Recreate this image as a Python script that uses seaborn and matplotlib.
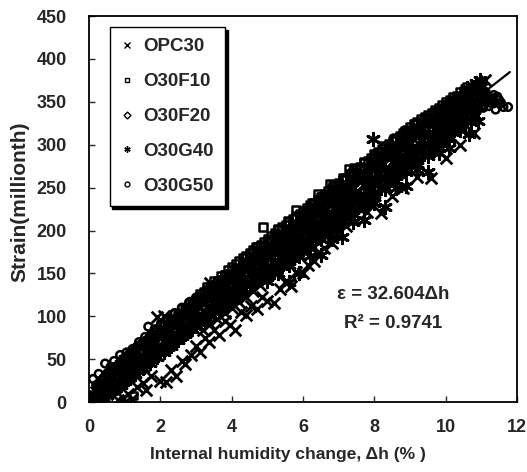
import numpy as np
import pandas as pd
import matplotlib.pyplot as plt
import seaborn as sns
from matplotlib.lines import Line2D

#%% datos
opc30_x = [0.05, 0.2, 0.35, 0.5, 0.65, 0.8, 0.95, 1.0, 1.1, 1.2, 1.35, 1.5, 1.6, 1.75,
           1.9, 2.1, 2.0, 2.15, 2.3, 2.45, 2.6, 2.7, 2.85, 3.0, 3.1, 3.25, 3.4, 3.35,
           3.5, 3.65, 3.8, 3.95, 4.1, 4.25, 4.4, 4.55, 4.7, 4.85, 5.0, 5.2, 5.35, 5.5,
           5.65, 5.8, 6.0, 6.15, 6.3, 6.45, 6.6, 6.8, 7.0, 7.2, 7.4, 7.6, 7.8, 8.2,
           8.5, 8.8, 9.2, 9.6, 10.0, 10.4, 10.8,
           0.6, 1.3, 2.2, 3.0, 3.6, 4.2, 4.8, 5.5, 6.2, 7.0, 7.8, 8.6, 9.4, 10.2, 11.0, 11.1,
           0.1, 0.3, 0.5, 0.7, 0.9, 1.1, 1.3, 1.5, 1.7, 1.9, 2.1, 2.3, 2.5, 2.7, 2.9,
           3.1, 3.3, 3.5, 3.7, 3.9, 4.1, 4.3, 4.5, 4.7, 4.9, 5.1, 5.3, 5.5, 5.7, 5.9,
           6.1, 6.3, 6.5, 6.7, 6.9, 7.1, 7.3, 7.5, 7.7, 7.9, 8.1, 8.3, 8.5, 8.7, 8.9,
           9.1, 9.3, 9.5, 9.7, 9.9, 10.1, 10.3, 10.5, 10.7, 10.9,
           0.2, 0.4, 0.6, 0.8, 1.0, 1.2, 1.4, 1.6, 1.8, 2.0, 2.2, 2.4, 2.6, 2.8, 3.0,
           3.2, 3.4, 3.6, 3.8, 4.0, 4.2, 4.4, 4.6, 4.8, 5.0, 5.2, 5.4, 5.6, 5.8, 6.0,
           6.2, 6.4, 6.6, 6.8, 7.0, 7.2, 7.4, 7.6, 7.8, 8.0, 8.2, 8.4, 8.6, 8.8, 9.0,
           9.2, 9.4, 9.6, 9.8, 10.0, 10.2, 10.4, 10.6, 10.8, 11.0,
           3.2, 3.4, 3.6, 3.8, 4.0, 4.2, 4.4, 4.6, 4.8]
opc30_y = [1, 3, 8, 10, 15, 2, 5, 0, 10, 4, 18, 22, 14, 30,
           99, 100, 25, 23, 38, 30, 48, 45, 55, 65, 58, 75, 139, 70,
           84, 78, 95, 90, 84, 105, 101, 112, 108, 122, 118, 115, 132, 140,
           135, 152, 150, 160, 165, 175, 180, 185, 200, 205, 215, 225, 222, 220,
           240, 250, 262, 261, 285, 300, 314,
           20, 40, 75, 105, 120, 142, 160, 185, 205, 232, 258, 285, 310, 335, 372, 375,
           5, 12, 20, 25, 33, 38, 46, 51, 59, 64, 72, 77, 85, 90, 98,
           103, 111, 116, 124, 129, 137, 142, 150, 155, 163, 168, 176, 181, 189, 194,
           202, 207, 215, 220, 228, 233, 241, 246, 254, 259, 267, 272, 280, 285, 293,
           298, 306, 311, 319, 324, 332, 337, 345, 350, 358,
           12, 21, 28, 36, 41, 49, 54, 62, 67, 75, 80, 88, 93, 101, 106,
           114, 119, 127, 132, 140, 145, 153, 158, 166, 171, 179, 184, 192, 197, 205,
           210, 218, 223, 231, 236, 244, 249, 257, 262, 270, 275, 283, 288, 296, 301,
           309, 314, 322, 327, 335, 340, 348, 353, 361, 366,
           84, 91, 97, 104, 110, 117, 123, 130, 136]

o30f10_x = [0.08, 0.22, 0.36, 0.48, 0.63, 0.79, 0.93, 1.08, 1.24, 1.21, 1.37, 1.53, 1.68,
            1.82, 1.97, 2.13, 2.28, 2.42, 2.58, 2.71, 2.87, 3.02, 3.18, 3.31, 3.48, 3.63,
            3.79, 3.93, 4.08, 4.23, 4.39, 4.52, 4.68, 4.83, 4.88, 5.02, 5.14, 5.29, 5.44,
            5.58, 5.71, 5.80, 5.96, 6.09, 6.24, 6.38, 6.40, 6.53, 6.67, 6.76, 6.84, 6.97,
            7.12, 7.27, 7.26, 7.42, 7.55, 7.69, 7.83, 7.97, 8.12, 8.26, 8.41, 8.55, 8.69,
            8.84, 8.98, 9.13, 9.27, 9.41, 9.55, 9.70, 9.84, 9.99, 10.13, 10.28, 10.42,
            10.57, 10.71, 10.85, 10.98, 11.1, 11.3,
            3.2, 3.4, 3.6, 3.8, 4.0, 4.2, 4.4, 4.6, 4.8, 5.0, 5.2, 5.4, 5.6, 5.8, 6.0,
            6.2, 6.4, 6.6, 6.8, 7.0, 7.2, 7.4, 7.6, 7.8, 8.0, 8.2, 8.4, 8.6, 8.8, 9.0,
            9.2, 9.4, 9.6, 9.8, 10.0, 10.2, 10.4, 10.6,
            3.1, 3.3, 3.5, 3.7, 3.9, 4.1, 4.3, 4.5, 4.7, 4.9, 5.1, 5.3, 5.5, 5.7, 5.9,
            6.1, 6.3, 6.5, 6.7, 6.9, 7.1, 7.3, 7.5, 7.7, 7.9, 8.1, 8.3, 8.5, 8.7, 8.9,
            9.1, 9.3, 9.5, 9.7, 9.9, 10.1, 10.3, 10.5]
o30f10_y = [5, 14, 22, 27, 34, 31, 42, 47, 8, 55, 52, 66, 72,
            68, 82, 79, 93, 86, 102, 110, 101, 118, 113, 131, 125, 136,
            149, 138, 156, 150, 169, 163, 181, 170, 204, 188, 180, 202, 194,
            211, 199, 224, 218, 214, 233, 224, 243, 240, 232, 255, 252, 242,
            262, 272, 254, 273, 262, 280, 273, 290, 283, 299, 290, 307, 300,
            316, 308, 324, 318, 331, 327, 338, 333, 347, 341, 353, 348,
            360, 356, 368, 362, 357, 355,
            129, 136, 142, 149, 158, 165, 171, 178, 184, 191, 197, 204, 210, 217, 223,
            230, 236, 243, 249, 256, 262, 269, 275, 282, 288, 295, 301, 308, 314, 321,
            327, 333, 337, 343, 350, 356, 362, 368,
            127, 134, 141, 147, 154, 161, 168, 174, 181, 187, 194, 201, 207, 214, 220,
            227, 233, 240, 246, 253, 259, 266, 272, 279, 285, 292, 298, 305, 311, 318,
            324, 330, 335, 341, 347, 352, 357, 363]

o30f20_x = [0.05, 0.17, 0.26, 0.41, 0.53, 0.72, 0.84, 1.02, 1.13, 1.31, 1.44, 1.62, 1.74,
            1.91, 2.03, 2.22, 2.33, 2.51, 2.66, 2.79, 2.97, 3.08, 3.26, 3.39, 3.57, 3.71,
            3.86, 4.02, 4.14, 4.31, 4.47, 4.58, 4.76, 4.89, 5.07, 5.19, 5.36, 5.52, 5.63,
            5.81, 5.94, 6.12, 6.23, 6.41, 6.57, 6.68, 6.86, 6.99, 7.16, 7.28, 7.47, 7.59,
            7.77, 7.88, 8.06, 8.21, 8.33, 8.52, 8.64, 8.81, 8.93, 9.12, 9.24, 9.43, 9.56,
            9.68, 9.87, 9.98, 10.16, 10.29, 10.47, 10.58, 10.76, 10.88, 11.06, 11.21,
            11.37, 11.52]
o30f20_y = [3, 1, 20, 15, 35, 19, 36, 48, 27, 49, 67, 53, 68,
            56, 80, 75, 95, 73, 95, 104, 95, 116, 110, 104, 126, 142,
            123, 138, 152, 130, 158, 150, 170, 154, 174, 191, 174, 186, 202,
            181, 205, 203, 217, 203, 234, 220, 232, 224, 249, 247, 235, 260,
            258, 276, 261, 275, 287, 271, 294, 288, 308, 301, 296, 317, 326,
            313, 330, 343, 331, 342, 333, 356, 355, 364, 355, 352,
            349, 347]

o30g40_x = [0.1, 0.3, 0.5, 0.7, 0.9, 1.1, 1.3, 1.5, 1.7, 1.9, 2.1, 2.3, 2.5, 2.7, 2.9,
            3.1, 3.3, 3.5, 3.7, 3.9, 4.1, 4.3, 4.5, 4.7, 4.9, 5.05, 5.2, 5.35, 5.5, 5.6,
            5.75, 5.9, 6.05, 6.2, 6.35, 6.5, 6.65, 6.8, 6.95, 7.1, 7.25, 7.4, 7.55, 7.7,
            7.85, 7.96, 8.0, 8.15, 8.3, 8.45, 8.6, 8.75, 8.9, 9.05, 9.2, 9.35, 9.5, 9.65,
            9.8, 9.95, 10.1, 10.25, 10.4, 10.55, 10.65, 10.75, 10.85, 10.95, 11.02, 10.6,
            10.8, 10.9, 11.05,
            0.2, 0.4, 0.6, 0.8, 1.0, 1.2, 1.4, 1.6, 1.8, 2.0, 2.2, 2.4, 2.6, 2.8, 3.0,
            3.2, 3.4, 3.6, 3.8, 4.0, 4.2, 4.4, 4.6, 4.8, 5.0, 5.2, 5.4, 5.6, 5.8, 6.0,
            6.2, 6.4, 6.6, 6.8, 7.0, 7.2, 7.4, 7.6, 7.8, 8.0, 8.2, 8.4, 8.6, 8.8, 9.0,
            9.2, 9.4, 9.6, 9.8, 10.0, 10.2, 10.4, 10.6, 10.8, 11.0,
            0.1, 0.3, 0.5, 0.7, 0.9, 1.1, 1.3, 1.5, 1.7, 1.9, 2.1, 2.3, 2.5, 2.7, 2.9,
            3.1, 3.3, 3.5, 3.7, 3.9, 4.1, 4.3, 4.5, 4.7, 4.9, 5.1, 5.3, 5.5, 5.7, 5.9,
            6.1, 6.3, 6.5, 6.7, 6.9, 7.1, 7.3, 7.5, 7.7, 7.9, 8.1, 8.3, 8.5, 8.7, 8.9,
            9.1, 9.3, 9.5, 9.7, 9.9, 10.1, 10.3, 10.5, 10.7, 10.9,
            5.0, 5.3, 5.6, 5.9, 6.2, 6.5, 6.8, 7.1, 7.4, 7.7, 8.0, 8.3, 8.6, 8.9, 9.2,
            9.5, 9.8, 10.1, 10.4, 10.7,
            0.6, 0.8, 1.0, 1.2, 1.4, 1.6, 1.8, 2.0, 2.2, 2.4, 2.6, 2.8, 3.0,
            3.2, 3.4, 3.6, 3.8, 4.0, 4.2, 4.4, 4.6, 4.8, 5.0, 5.2, 5.4, 5.6, 5.8, 6.0,
            6.2, 6.4, 6.6, 6.8, 7.0, 7.2, 7.4, 7.6, 7.8, 8.0, 8.2, 8.4, 8.6, 8.8, 9.0,
            9.2, 9.4, 9.6, 9.8, 10.0, 10.2, 10.4, 10.6, 10.8,
            0.5, 0.7, 0.9, 1.1, 1.3, 1.5, 1.7, 1.9, 2.1, 2.3, 2.5, 2.7, 2.9,
            3.1, 3.3, 3.5, 3.7, 3.9, 4.1, 4.3, 4.5, 4.7, 4.9, 5.1, 5.3, 5.5, 5.7, 5.9,
            6.1, 6.3, 6.5, 6.7, 6.9, 7.1, 7.3, 7.5, 7.7, 7.9, 8.1, 8.3, 8.5, 8.7, 8.9,
            9.1, 9.3, 9.5, 9.7, 9.9, 10.1, 10.3, 10.5, 10.7, 10.9,
            5.0, 5.2, 5.4, 5.6, 5.8, 6.0, 6.2, 6.4, 6.6, 6.8, 7.0, 7.2, 7.4, 7.6, 7.8,
            8.0, 8.2, 8.4, 8.6, 8.8, 9.0, 9.2, 9.4, 9.6, 9.8, 10.0, 10.2, 10.4, 10.6, 10.8]
o30g40_y = [2, 6, 12, 18, 25, 30, 38, 44, 50, 58, 63, 70, 76, 84, 90,
            96, 103, 108, 116, 122, 128, 133, 140, 146, 152, 150, 163, 160, 170, 140,
            178, 150, 186, 170, 200, 172, 208, 190, 218, 192, 228, 210, 240, 212,
            250, 307, 232, 262, 228, 270, 250, 280, 252, 290, 270, 300, 268, 310,
            290, 320, 296, 332, 318, 350, 312, 362, 372, 376, 368, 366,
            340, 328, 360,
            1, 6, 13, 20, 25, 33, 38, 46, 51, 59, 64, 72, 77, 85, 90,
            98, 103, 111, 116, 124, 129, 137, 142, 150, 155, 163, 168, 176, 181, 189,
            194, 202, 207, 215, 220, 228, 233, 241, 246, 254, 259, 267, 272, 280, 285,
            293, 298, 306, 311, 319, 324, 332, 337, 345, 352,
            8, 20, 29, 37, 45, 50, 58, 63, 71, 76, 84, 90, 96, 104, 109,
            117, 122, 130, 135, 143, 148, 156, 161, 169, 175, 182, 188, 195, 201, 208,
            214, 221, 227, 234, 240, 247, 253, 260, 266, 273, 279, 286, 292, 299, 305,
            312, 318, 325, 331, 337, 343, 350, 356, 362, 368,
            141, 150, 160, 170, 180, 190, 199, 210, 219, 229, 239, 248, 258, 268, 278,
            287, 297, 307, 317, 326,
            34, 42, 50, 57, 64, 71, 78, 85, 91, 98, 104, 111, 117,
            124, 130, 137, 144, 150, 157, 163, 170, 176, 183, 189, 196, 202, 209, 215,
            222, 228, 235, 241, 248, 254, 261, 267, 274, 280, 287, 293, 300, 306, 313,
            319, 326, 331, 337, 343, 349, 355, 361, 367,
            8, 14, 20, 27, 33, 40, 46, 53, 59, 66, 72, 79, 85,
            92, 98, 105, 111, 118, 124, 131, 137, 144, 150, 157, 163, 170, 176, 183,
            189, 196, 202, 209, 215, 222, 228, 235, 241, 248, 254, 261, 267, 274, 280,
            287, 293, 300, 306, 313, 319, 326, 332, 339, 345,
            146, 152, 159, 165, 172, 178, 185, 191, 198, 204, 211, 217, 224, 230, 237,
            243, 250, 256, 263, 269, 276, 282, 289, 295, 302, 308, 315, 321, 328, 335]

o30g50_x = [0.03, 0.11, 0.18, 0.27, 0.35, 0.45, 0.52, 0.60, 0.70, 0.80, 0.87, 0.96, 1.05,
            1.14, 1.22, 1.31, 1.40, 1.48, 1.57, 1.66, 1.75, 1.84, 1.93, 2.02, 2.12, 2.21,
            2.31, 2.40, 2.50, 2.61, 2.72, 2.83, 2.95, 3.06, 3.18, 3.30, 3.42, 3.55, 3.68,
            3.81, 3.95, 4.1, 4.25, 4.4, 4.55, 4.7, 4.85, 5.0, 5.2, 5.4, 5.6, 5.8, 6.0,
            6.3, 6.6, 6.9, 7.2, 7.5, 7.8, 8.1, 8.4, 8.7, 9.0, 9.3, 9.6, 9.9, 10.2, 10.5,
            10.8, 11.0, 11.1, 11.2, 11.3, 11.4, 11.45, 11.55, 11.62, 11.75,
            0.2, 0.4, 0.6, 0.8, 1.0, 1.2, 1.4, 1.6, 1.8, 2.0, 2.2, 2.4, 2.6, 2.8, 3.0,
            0.3, 0.5, 0.7, 0.9, 1.1, 1.3, 1.5, 1.7, 1.9, 2.1, 2.3, 2.5, 2.7, 2.9,
            11.05, 11.15, 11.25, 11.35, 11.5]
o30g50_y = [8, 27, 4, 33, 15, 45, 24, 41, 48, 30, 55, 40, 58,
            45, 62, 52, 70, 58, 76, 88, 72, 85, 76, 92, 84, 97,
            90, 104, 96, 110, 103, 117, 108, 122, 116, 128, 121, 135, 128,
            143, 136, 150, 144, 158, 153, 165, 160, 175, 170, 185, 182, 198, 195,
            214, 221, 236, 243, 258, 266, 280, 288, 302, 308, 320, 328, 340, 345, 352,
            348, 350, 358, 345, 353, 341, 356, 349, 344, 344,
            20, 28, 35, 41, 52, 58, 66, 72, 79, 89, 96, 103, 110, 116, 122,
            22, 32, 40, 47, 55, 62, 69, 76, 83, 90, 97, 103, 110, 117,
            343, 351, 349, 358, 352]

pendiente = 32.604
recta_x = [0, 11.8]

# nombre, x, y, marcador, tamaño, grosor
series = [
    ("OPC30", opc30_x, opc30_y, "x", 70, 2.0),
    ("O30F10", o30f10_x, o30f10_y, "s", 28, 1.8),
    ("O30F20", o30f20_x, o30f20_y, "D", 22, 1.8),
    ("O30G40", o30g40_x, o30g40_y, (6, 2, 0), 80, 2.1),
    ("O30G50", o30g50_x, o30g50_y, "o", 30, 1.8),
]

#%% grafico
sns.set_style("ticks")
plt.rcParams["font.family"] = ["Liberation Sans", "DejaVu Sans"]
plt.rcParams["font.weight"] = "bold"

fig = plt.figure(figsize=(5.27, 4.72), dpi=100)
ax = fig.add_axes([0.169, 0.148, 0.812, 0.818])

for nombre, xs, ys, marca, tam, grosor in series:
    df = pd.DataFrame({"dh": xs, "strain": ys})
    if marca in ("x", (6, 2, 0)):
        sns.scatterplot(data=df, x="dh", y="strain", marker=marca, s=tam,
                        color="black", linewidth=grosor, ax=ax)
    else:
        sns.scatterplot(data=df, x="dh", y="strain", marker=marca, s=tam,
                        facecolor="none", edgecolor="black", linewidth=grosor, ax=ax)

recta = pd.DataFrame({"dh": recta_x, "strain": [pendiente * v for v in recta_x]})
sns.lineplot(data=recta, x="dh", y="strain", color="black", linewidth=1.6, ax=ax)

ax.set_xlim(0, 12)
ax.set_ylim(0, 450)
ax.set_xticks(range(0, 13, 2))
ax.set_yticks(range(0, 451, 50))
ax.tick_params(direction="in", length=4, width=1, labelsize=13)
ax.tick_params(axis="x", pad=12)
ax.tick_params(axis="y", pad=16)
for s in ax.spines.values():
    s.set_visible(True)
    s.set_linewidth(1.3)
    s.set_color("black")

ax.set_xlabel("Internal humidity change, Δh (% )", fontsize=12.5, fontweight="bold")
ax.set_ylabel("Strain(millionth)", fontsize=15, fontweight="bold")
ax.xaxis.set_label_coords(0.465, -0.115)
ax.yaxis.set_label_coords(-0.14, 0.52)

ax.text(8.52, 125, "ε = 32.604Δh", fontsize=13.5, fontweight="bold", ha="center", va="center")
ax.text(8.52, 92, "R² = 0.9741", fontsize=13.5, fontweight="bold", ha="center", va="center")

manijas = [Line2D([], [], linestyle="none", marker=m, markersize=4.5 if m in ("x", (6, 2, 0)) else 3.5,
                  markerfacecolor="none", markeredgecolor="black", markeredgewidth=1.0)
           for _, _, _, m, _, _ in series]
leg = ax.legend(manijas, [s[0] for s in series], loc="upper left",
                bbox_to_anchor=(0.048, 0.972), fontsize=13.5, frameon=True, fancybox=False,
                shadow={"color": "black", "alpha": 1.0}, handlelength=0.7, handletextpad=0.5,
                labelspacing=0.95, borderpad=0.6, borderaxespad=0)
leg.get_frame().set_edgecolor("black")
leg.get_frame().set_linewidth(1.0)

fig.savefig("out.png", dpi=100)
